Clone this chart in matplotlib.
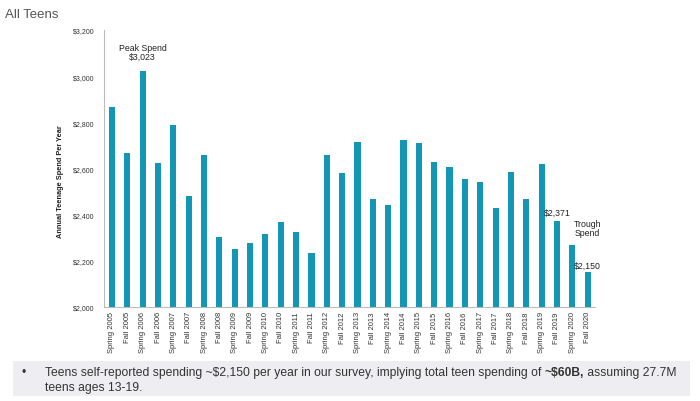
import matplotlib.pyplot as plt
import numpy as np

plt.rcParams['font.family'] = ['Liberation Sans', 'DejaVu Sans']

# ============ DATA ============
periods = ["Spring 2005", "Fall 2005", "Spring 2006", "Fall 2006", "Spring 2007", "Fall 2007",
           "Spring 2008", "Fall 2008", "Spring 2009", "Fall 2009", "Spring 2010", "Fall 2010",
           "Spring 2011", "Fall 2011", "Spring 2012", "Fall 2012", "Spring 2013", "Fall 2013",
           "Spring 2014", "Fall 2014", "Spring 2015", "Fall 2015", "Spring 2016", "Fall 2016",
           "Spring 2017", "Fall 2017", "Spring 2018", "Fall 2018", "Spring 2019", "Fall 2019",
           "Spring 2020", "Fall 2020"]
spend = [2868, 2668, 3023, 2622, 2787, 2483,
         2660, 2304, 2250, 2278, 2318, 2370,
         2324, 2234, 2660, 2582, 2715, 2469,
         2440, 2723, 2712, 2626, 2605, 2556,
         2543, 2430, 2586, 2466, 2621, 2371,
         2269, 2150]
y_ticks = [2000, 2200, 2400, 2600, 2800, 3000, 3200]

BAR_COLOR = "#1497B4"

# ============ FIGURE ============
fig = plt.figure(figsize=(7.0, 4.02), dpi=100)
ax = fig.add_axes([104 / 700, 94 / 402, 491 / 700, 277 / 402])

x = np.arange(len(periods))
ax.bar(x, spend, width=0.4, color=BAR_COLOR)

ax.set_xlim(-0.52, len(periods) - 0.52)
ax.set_ylim(2000, 3200)
ax.set_yticks(y_ticks)
ax.set_yticklabels([f"${v:,}" for v in y_ticks], fontsize=5, color="#333333")
ax.set_xticks(x)
ax.set_xticklabels(periods, rotation=90, fontsize=5.5, color="#333333")
ax.tick_params(axis="both", length=0, pad=7)
ax.tick_params(axis="x", pad=3)

for side in ["top", "right"]:
    ax.spines[side].set_visible(False)
ax.spines["left"].set_color("#bbbbbb")
ax.spines["bottom"].set_color("#bbbbbb")

fig.text(60 / 700, 1 - 182 / 402, "Annual Teenage Spend Per Year", rotation=90,
         ha="center", va="center", fontsize=5.3, fontweight="bold", color="#222222")

# ============ ANNOTATIONS ============
ax.annotate("Peak Spend\n$3,023", xy=(2, spend[2]), xytext=(0, 7), textcoords="offset points",
            ha="center", va="bottom", fontsize=6.3, linespacing=0.95, color="#222222")
ax.annotate("$2,371", xy=(29, spend[29]), xytext=(0, 3), textcoords="offset points",
            ha="center", va="bottom", fontsize=6.3, color="#222222")
ax.annotate("Trough\nSpend", xy=(31, spend[30]), xytext=(0, 6), textcoords="offset points",
            ha="center", va="bottom", fontsize=6.3, linespacing=1.0, color="#222222")
ax.annotate("$2,150", xy=(31, spend[31]), xytext=(0, 2), textcoords="offset points",
            ha="center", va="bottom", fontsize=6.3, color="#222222")

# ============ TITLE ============
fig.text(5 / 700, 1 - 15 / 402, "All Teens", ha="left", va="center", fontsize=9.5, color="#555555")

# ============ FOOTNOTE BOX ============
box = plt.Rectangle((13 / 700, 1 - 397 / 402), 677 / 700, 35 / 402, transform=fig.transFigure,
                    facecolor="#EEEEF2", edgecolor="none", zorder=0)
fig.patches.append(box)

FOOT_SIZE = 8.7
fig.text(22 / 700, 1 - 373 / 402, "\u2022", ha="left", va="center", fontsize=FOOT_SIZE, color="#333333")
part1 = fig.text(45 / 700, 1 - 373 / 402,
                 "Teens self-reported spending ~$2,150 per year in our survey, implying total teen spending of ",
                 ha="left", va="center", fontsize=FOOT_SIZE, color="#333333")
fig.canvas.draw()
renderer = fig.canvas.get_renderer()
bb = part1.get_window_extent(renderer).transformed(fig.transFigure.inverted())
part2 = fig.text(bb.x1, 1 - 373 / 402, "~$60B,", ha="left", va="center", fontsize=FOOT_SIZE,
                 fontweight="bold", color="#333333")
bb2 = part2.get_window_extent(renderer).transformed(fig.transFigure.inverted())
fig.text(bb2.x1, 1 - 373 / 402, " assuming 27.7M", ha="left", va="center", fontsize=FOOT_SIZE, color="#333333")
fig.text(45 / 700, 1 - 388 / 402, "teens ages 13-19.", ha="left", va="center", fontsize=FOOT_SIZE, color="#333333")

fig.savefig("out.png", dpi=100)
